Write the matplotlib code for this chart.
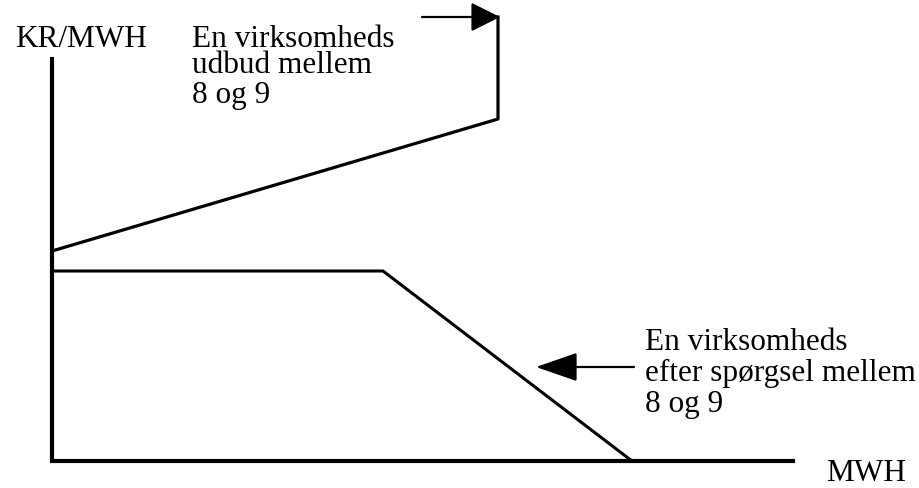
import matplotlib.pyplot as plt

# diagram coordinates (pixel-like units, y grows downward)
axis_x = [52, 52, 793]
axis_y = [60, 462, 462]

supply_x = [52, 498, 498]
supply_y = [252, 120, 18]

demand_x = [52, 383, 632]
demand_y = [272, 272, 462]

label_y_axis = "KR/MWH"
label_x_axis = "MWH"
supply_text = ["En virksomheds", "udbud mellem", "8 og 9"]
demand_text = ["En virksomheds", "efter spørgsel mellem", "8 og 9"]

plt.rcParams['font.family'] = ['Liberation Serif', 'DejaVu Serif']

fig = plt.figure(figsize=(9.2, 4.89), dpi=100)
fig.patch.set_facecolor('white')
ax = fig.add_axes([0, 0, 1, 1])
ax.set_xlim(0, 920)
ax.set_ylim(489, 0)
ax.axis('off')

ax.plot(axis_x, axis_y, color='black', lw=3, solid_joinstyle='miter')
ax.plot(supply_x, supply_y, color='black', lw=2.3)
ax.plot(demand_x, demand_y, color='black', lw=2.2)

# arrows
ax.annotate('', xy=(500, 18), xytext=(422, 18),
            arrowprops=dict(arrowstyle='-|>,head_length=0.9,head_width=0.45',
                            mutation_scale=20, color='black', lw=1.6,
                            shrinkA=0, shrinkB=0))
ax.annotate('', xy=(536, 368), xytext=(634, 368),
            arrowprops=dict(arrowstyle='-|>,head_length=1.3,head_width=0.45',
                            mutation_scale=20, color='black', lw=1.6,
                            shrinkA=0, shrinkB=0))

fs = 22.5
ax.text(15, 47, label_y_axis, fontsize=fs, va='baseline', ha='left')
ax.text(826, 481, label_x_axis, fontsize=fs, va='baseline', ha='left')

# first two lines of the supply note sit tightly together
# (baseline alignment of a multi-line text uses its last line)
ax.text(192, 73, "\n".join(supply_text[:2]), fontsize=fs, va='baseline',
        ha='left', linespacing=0.85)
ax.text(192, 103, supply_text[2], fontsize=fs, va='baseline', ha='left')
for txt, y in zip(demand_text, [350, 381, 412]):
    ax.text(645, y, txt, fontsize=fs, va='baseline', ha='left')

fig.savefig('out.png', dpi=100, facecolor='white')
